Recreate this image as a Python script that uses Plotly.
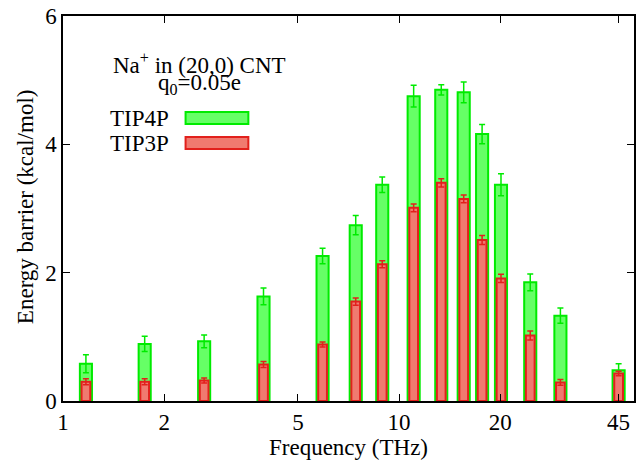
import numpy as np
import plotly.graph_objects as go

# Oscillation frequencies (THz) and energy barriers (kcal/mol)
freq = [1.17, 1.75, 2.63, 3.95, 5.92, 7.43, 8.91, 11.05, 13.35, 15.57, 17.66, 20.1, 24.56, 30.2, 45.0]
tip4p = [0.58, 0.89, 0.93, 1.63, 2.26, 2.74, 3.37, 4.75, 4.85, 4.81, 4.16, 3.37, 1.85, 1.33, 0.48]
tip4p_err = [0.14, 0.12, 0.10, 0.13, 0.12, 0.15, 0.12, 0.17, 0.08, 0.16, 0.15, 0.17, 0.13, 0.12, 0.10]
tip3p = [0.30, 0.30, 0.32, 0.57, 0.88, 1.55, 2.13, 3.01, 3.40, 3.15, 2.51, 1.91, 1.02, 0.29, 0.43]
tip3p_err = [0.045, 0.045, 0.04, 0.047, 0.04, 0.057, 0.055, 0.06, 0.063, 0.06, 0.07, 0.065, 0.07, 0.045, 0.035]

xtick_vals = [1, 2, 5, 10, 20, 45]
xtick_text = ["1", "2", "5", "10", "20", "45"]
ytick_vals = [0, 2, 4, 6]

FONT = "Liberation Serif"
GREEN_FILL = "rgb(102,255,102)"
GREEN_LINE = "rgb(0,235,0)"
RED_FILL = "rgb(240,122,112)"
RED_LINE = "rgb(226,32,28)"

# frequency axis is logarithmic: plot log10(f) on a linear axis so bars keep a constant pixel width
lx = np.log10(freq)

fig = go.Figure()
fig.add_trace(go.Bar(
    x=lx, y=tip4p, width=0.036, name="TIP4P",
    marker=dict(color=GREEN_FILL, line=dict(color=GREEN_LINE, width=2)),
    error_y=dict(type="data", array=tip4p_err, color=GREEN_LINE, thickness=1.5, width=3),
))
fig.add_trace(go.Bar(
    x=lx, y=tip3p, width=0.026, name="TIP3P",
    marker=dict(color=RED_FILL, line=dict(color=RED_LINE, width=2)),
    error_y=dict(type="data", array=tip3p_err, color=RED_LINE, thickness=1.5, width=3),
))

L, R, T, B = 63, 2, 16, 63
W, H = 638, 464
pw, ph = W - L - R, H - T - B


def px(xp):
    return (xp - L) / pw


def py(yp):
    return (H - B - yp) / ph


annots = [
    dict(text="Na<sup>+</sup> in (20,0) CNT", x=px(200), y=py(63), xanchor="center", yanchor="middle"),
    dict(text="q<sub>0</sub>=0.05e", x=px(200), y=py(84), xanchor="center", yanchor="middle"),
    dict(text="TIP4P", x=px(171), y=py(119), xanchor="right", yanchor="middle"),
    dict(text="TIP3P", x=px(171), y=py(143), xanchor="right", yanchor="middle"),
    dict(text="Frequency (THz)", x=0.5, y=py(447), xanchor="center", yanchor="middle"),
    dict(text="Energy barrier (kcal/mol)", x=px(25), y=py(207), xanchor="center",
         yanchor="middle", textangle=-90),
]
for a in annots:
    a.update(xref="paper", yref="paper", showarrow=False,
             font=dict(family=FONT, size=23, color="black"))

shapes = [
    dict(type="rect", xref="paper", yref="paper", x0=px(186), x1=px(249), y0=py(112), y1=py(124),
         fillcolor=GREEN_FILL, line=dict(color=GREEN_LINE, width=2)),
    dict(type="rect", xref="paper", yref="paper", x0=px(186), x1=px(249), y0=py(137), y1=py(149),
         fillcolor=RED_FILL, line=dict(color=RED_LINE, width=2)),
]

axis_common = dict(
    showgrid=False, zeroline=False, showline=True, linecolor="black", linewidth=1.5,
    mirror="ticks", ticks="inside", ticklen=7, tickwidth=1.2, tickcolor="black",
    tickfont=dict(family=FONT, size=23, color="black"),
)

fig.update_layout(
    width=W, height=H,
    margin=dict(l=L, r=R, t=T, b=B),
    paper_bgcolor="white", plot_bgcolor="white",
    barmode="overlay", showlegend=False,
    xaxis=dict(range=[0, np.log10(50)], tickmode="array",
               tickvals=np.log10(xtick_vals), ticktext=xtick_text, **axis_common),
    yaxis=dict(range=[0, 6], tickmode="array", tickvals=ytick_vals, **axis_common),
    annotations=annots, shapes=shapes,
)

fig.write_html("out.html")
